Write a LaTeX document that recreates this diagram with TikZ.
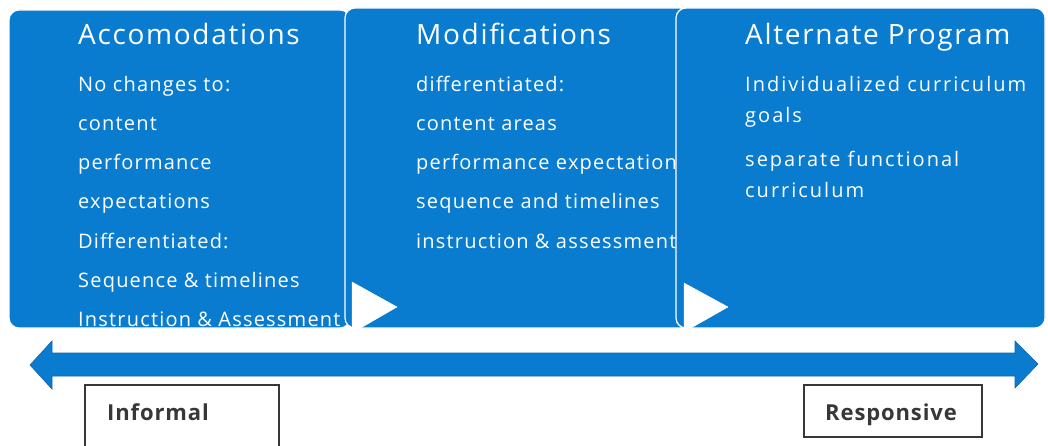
\documentclass[tikz,border=0pt]{standalone}
\usepackage{fontspec}
\setmainfont{Open Sans}
\newfontfamily\ttlfont[LetterSpace=6]{Open Sans}
\newfontfamily\bodyfont[LetterSpace=6]{Open Sans}
\newfontfamily\widefont[LetterSpace=10]{Open Sans}
\newfontfamily\lblfont[LetterSpace=4]{Open Sans}
\definecolor{boxblue}{RGB}{10,124,208}
\definecolor{edgeblue}{RGB}{20,100,170}
\definecolor{labelgray}{RGB}{55,55,55}
\tikzset{
  panel/.style={fill=boxblue, draw=white, line width=1.2pt},
  ttl/.style={anchor=base west, text=white, font=\ttlfont\fontsize{28}{30}\selectfont, inner sep=0pt},
  body/.style={anchor=base west, text=white, font=\bodyfont\fontsize{20}{22}\selectfont, inner sep=0pt},
  wbody/.style={anchor=base west, text=white, font=\widefont\fontsize{20}{22}\selectfont, inner sep=0pt},
  tri/.style={fill=white, draw=white, line join=round},
  lbl/.style={anchor=base west, text=labelgray, font=\lblfont\bfseries\fontsize{22}{24}\selectfont, inner sep=0pt},
  frame/.style={draw=labelgray, line width=1.4pt}
}
\begin{document}
\begin{tikzpicture}[x=1pt,y=-1pt]
\useasboundingbox (0,0) rectangle (1048,446);
% box 1
\draw[panel, rounded corners=10pt] (9,10) rectangle (350,328);
\node[ttl] (t1) at (78,45) {Accomodations};
\node[body] (b11) at (78,92) {No changes to:};
\node[body] (b12) at (78,131) {content};
\node[body] (b13) at (78,170) {performance};
\node[body] (b14) at (78,209) {expectations};
\node[body] (b15) at (78,248) {Differentiated:};
\node[body] (b16) at (78,287) {Sequence \& timelines};
\node[body] (b17) at (78,326) {Instruction \& Assessment};
% box 2
\draw[panel, rounded corners=10pt] (345,8) rectangle (690,328);
\node[ttl] (t2) at (416,45) {Modifications};
\node[body] (b21) at (416,92) {differentiated:};
\node[body] (b22) at (416,131) {content areas};
\node[body] (b23) at (416,170) {performance expectations};
\node[body] (b24) at (416,209) {sequence and timelines};
\node[body] (b25) at (416,248) {instruction \& assessment};
\draw[tri] (352,282) -- (397,307) -- (352,333) -- cycle;
% box 3
\draw[panel, rounded corners=10pt] (676,8) rectangle (1045,328);
\node[ttl] (t3) at (745,45) {Alternate Program};
\node[wbody] (b31) at (745,92) {Individualized curriculum};
\node[wbody] (b32) at (745,123) {goals};
\node[wbody] (b33) at (745,167) {separate functional};
\node[wbody] (b34) at (745,198) {curriculum};
\draw[tri] (684,283) -- (728,307) -- (684,332) -- cycle;
% double arrow
\fill[boxblue, draw=edgeblue, line width=0.6pt]
  (30,365) -- (52,341) -- (52,353) -- (1015,353) -- (1015,341) -- (1038,364)
  -- (1015,388) -- (1015,376) -- (52,376) -- (52,389) -- cycle;
% labels
\draw[frame] (85,448) -- (85,385) -- (279,385) -- (279,448);
\node[lbl] (inf) at (107,420) {Informal};
\draw[frame] (804,385) rectangle (982,437);
\node[lbl, anchor=base] (resp) at (891,420) {Responsive};
\end{tikzpicture}
\end{document}
